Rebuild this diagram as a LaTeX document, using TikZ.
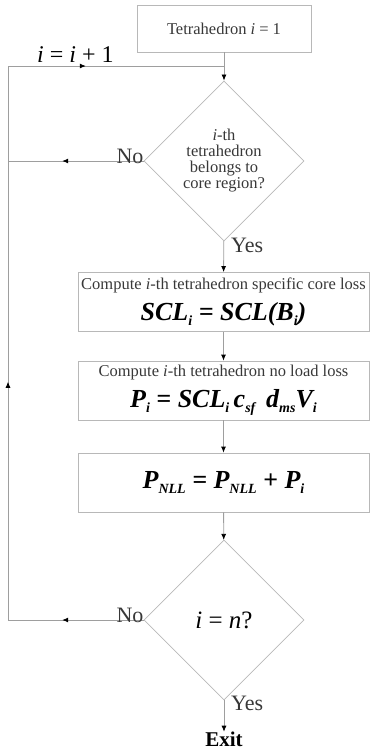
\documentclass[tikz,border=0pt]{standalone}
\usepackage{fontspec}
\setmainfont{Liberation Serif}
\usetikzlibrary{shapes.geometric,arrows.meta,decorations.markings}

\definecolor{linegray}{gray}{0.62}
\definecolor{boxgray}{gray}{0.72}
\definecolor{textgray}{gray}{0.22}

\newcommand{\smalltxt}{\fontsize{16.5}{17}\selectfont}
\newcommand{\eqtxt}{\fontsize{26}{28}\selectfont\bfseries\itshape\color{black}}
\newcommand{\sub}[1]{\raisebox{-0.22em}{\fontsize{14}{14}\selectfont #1}}

\begin{document}
\begin{tikzpicture}[x=1pt, y=-1pt,
		every node/.style = {inner sep=0pt, text=textgray},
		stepbox/.style = {draw=boxgray, line width=0.8pt, minimum width=291pt, minimum height=59pt, align=center},
		decision/.style = {diamond, draw=boxgray, line width=0.8pt, minimum width=160pt, minimum height=160pt, align=center},
		flow/.style = {draw=linegray, line width=0.8pt, -{Latex[length=6pt, width=5pt, color=black]}},
		midarrow/.style = {draw=linegray, line width=0.8pt, postaction={decorate},
			decoration={markings, mark=at position #1 with {\arrow{Latex[length=6pt, width=5pt, color=black]}}}},
		answer/.style = {font=\fontsize{22}{24}\selectfont}]
		\useasboundingbox (0,0) rectangle (370,750);

		% main column
		\node[stepbox, minimum width=174pt, minimum height=47pt, font=\smalltxt] (start) at (224,28.5) {Tetrahedron \textit{i} = 1};
		\node[decision, font=\fontsize{16.5}{16}\selectfont] (core) at (224,161) {\textit{i}-th\\tetrahedron\\belongs to\\core region?};
		\node[stepbox, font=\smalltxt] (scl) at (223.5,302) {Compute \textit{i}-th tetrahedron specific core loss\\[8pt]
			{\eqtxt SCL\sub{i} = SCL(B\sub{i})}};
		\node[stepbox, font=\smalltxt] (loss) at (223.5,390.5) {Compute \textit{i}-th tetrahedron no load loss\\[8pt]
			{\eqtxt P\sub{i} = SCL\sub{i}\,c\sub{sf}\, d\sub{ms}V\sub{i}}};
		\node[stepbox] (sum) at (223.5,482.5) {\eqtxt P\sub{NLL} = P\sub{NLL} + P\sub{i}};
		\node[decision, text=black] (last) at (224,620) {\fontsize{25}{27}\selectfont\textit{i} = \textit{n}?};
		\node[anchor=base, font=\fontsize{21}{23}\selectfont\bfseries, text=black] (exit) at (224,746.5) {Exit};

		% loop corners
		\coordinate (join) at (224,66);
		\coordinate (lt) at (8,66);
		\coordinate (lm) at (8,161);
		\coordinate (lb) at (8,620);

		\draw[flow] (start) -- (core);
		\draw[flow] (core) -- (scl);
		\draw[flow] (scl) -- (loss);
		\draw[flow] (loss) -- (sum);
		\draw[flow] (sum) -- (last);
		\draw[flow] (last) -- (exit);

		\draw[midarrow=0.6] (core.west) -- (lm);
		\draw[midarrow=0.6] (last.west) -- (lb);
		\draw[midarrow=0.43] (lb) -- (lt);
		\draw[midarrow=0.36] (lt) -- (join);

		% labels
		\node[answer, anchor=base east] (no1) at ([yshift=-2pt]core.west) {No};
		\node[answer, anchor=base east] (no2) at ([yshift=-2pt]last.west) {No};
		\node[answer, anchor=north west] (yes1) at ([xshift=7pt, yshift=4pt]core.south) {Yes};
		\node[answer, anchor=north west] (yes2) at ([xshift=7pt, yshift=5pt]last.south) {Yes};
		\node[anchor=base west, font=\fontsize{24}{26}\selectfont, text=black] (incr) at (37,62) {\textit{i} = \textit{i} + 1};
	\end{tikzpicture}
\end{document}
